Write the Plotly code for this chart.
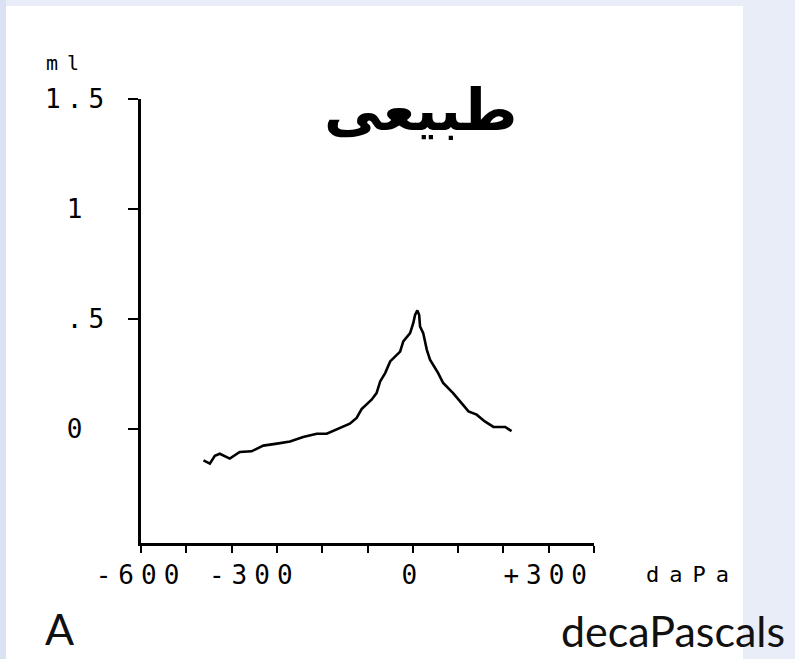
import plotly.graph_objects as go

# ---- data ----
pressure_dapa = [-462, -448, -437, -426, -404, -382, -356, -330, -300, -271, -242, -212,
                 -190, -168, -139, -124, -113, -91, -80, -72, -61, -50, -28, -21, -6, 1,
                 5, 10, 14, 16, 23, 31, 38, 56, 67, 89, 112, 123, 141, 159, 178, 204, 218]
volume_ml = [-0.144, -0.159, -0.123, -0.114, -0.136, -0.106, -0.103, -0.077, -0.068, -0.058,
             -0.038, -0.023, -0.023, -0.002, 0.023, 0.049, 0.089, 0.132, 0.162, 0.215, 0.253,
             0.306, 0.351, 0.397, 0.435, 0.480, 0.518, 0.538, 0.518, 0.465, 0.435, 0.359,
             0.314, 0.253, 0.208, 0.162, 0.109, 0.079, 0.064, 0.033, 0.008, 0.008, -0.011]

x_tick_vals = [-600, -500, -400, -300, -200, -100, 0, 100, 200, 300, 400]
x_tick_text = ["-600", "", "", "-300\u00a0\u00a0", "", "", "0", "", "", "+300", ""]
y_tick_vals = [0, 0.5, 1, 1.5]
y_tick_text = ["0\u00a0", ".5", "1\u00a0", "1.5"]

title_text = "طبیعی"
y_unit = "ml"
x_unit = "daPa"
panel_label = "A"
x_caption = "decaPascals"

# ---- layout geometry (pixels) ----
W, H = 795, 659
L, R, T, B = 141, 594, 99, 543


def px(xp):
    return (xp - L) / (R - L)


def py(yp):
    return (B - yp) / (B - T)


MONO = "DejaVu Sans Mono"


def spaced(s, ls):
    return '<span style="letter-spacing:%dpx">%s</span>' % (ls, s)


fig = go.Figure()
fig.add_trace(go.Scatter(x=pressure_dapa, y=volume_ml, mode="lines",
                         line=dict(color="black", width=2.6), hoverinfo="skip"))

fig.update_layout(
    width=W, height=H, autosize=False,
    margin=dict(l=L, r=W - R, t=T, b=H - B, pad=0, autoexpand=False),
    paper_bgcolor="#e9edf8", plot_bgcolor="white",
    showlegend=False,
    xaxis=dict(range=[-600, 400], showgrid=False, zeroline=False,
               showline=True, linecolor="black", linewidth=2.5,
               ticks="outside", ticklen=7, tickwidth=2, tickcolor="black",
               tickvals=x_tick_vals, ticktext=[spaced(t, 7) for t in x_tick_text],
               tickfont=dict(family=MONO, size=26, color="black"),
               tickangle=0, automargin=False,
               ticklabelstandoff=0),
    yaxis=dict(range=[-0.52, 1.5], showgrid=False, zeroline=False,
               showline=True, linecolor="black", linewidth=2.5,
               ticks="outside", ticklen=10, tickwidth=2, tickcolor="black",
               tickvals=y_tick_vals, ticktext=[spaced(t, 6) for t in y_tick_text],
               tickfont=dict(family=MONO, size=26, color="black"),
               tickangle=0, automargin=False,
               ticklabelstandoff=13),
)

# white page and left blue strip
fig.add_shape(type="rect", xref="paper", yref="paper", layer="below",
              x0=px(6), x1=px(743), y0=py(H + 5), y1=py(6),
              fillcolor="white", line=dict(width=0))
fig.add_shape(type="rect", xref="paper", yref="paper", layer="below",
              x0=px(-5), x1=px(6), y0=py(H + 5), y1=py(-5),
              fillcolor="#dae1f3", line=dict(width=0))

fig.add_annotation(x=px(420), y=py(110), xref="paper", yref="paper",
                   text="<b>%s</b>" % title_text, showarrow=False,
                   xanchor="center", yanchor="middle",
                   font=dict(family="DejaVu Sans", size=58, color="black"))
fig.add_annotation(x=px(44), y=py(63), xref="paper", yref="paper",
                   text=spaced(y_unit, 9), showarrow=False,
                   xanchor="left", yanchor="middle",
                   font=dict(family=MONO, size=20, color="black"))
fig.add_annotation(x=px(644), y=py(574), xref="paper", yref="paper",
                   text=spaced(x_unit, 10), showarrow=False,
                   xanchor="left", yanchor="middle",
                   font=dict(family=MONO, size=22, color="black"))
fig.add_annotation(x=px(43), y=py(628), xref="paper", yref="paper",
                   text=panel_label, showarrow=False,
                   xanchor="left", yanchor="middle",
                   font=dict(family="Lato", size=43, color="#111111"))
fig.add_annotation(x=px(787), y=py(630), xref="paper", yref="paper",
                   text=x_caption, showarrow=False,
                   xanchor="right", yanchor="middle",
                   font=dict(family="Lato", size=43, color="#111111"))

fig.write_html("out.html", config={"displayModeBar": False},
               post_script="document.body.style.margin='0';"
                           "document.body.style.overflow='hidden';")
